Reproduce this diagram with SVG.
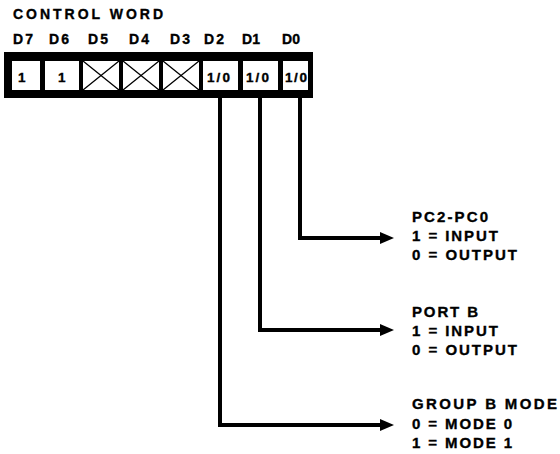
<svg xmlns="http://www.w3.org/2000/svg" width="560" height="454" viewBox="0 0 560 454">
<style>
text{font-family:"Liberation Sans",Arial,sans-serif;font-weight:bold;fill:#000;stroke:#000;stroke-width:0.35}
.hd{font-size:14px}
.cell{fill:#fff;stroke:none}
.ct{font-size:13.5px}
.x{stroke:#000;stroke-width:1.3;fill:none}
.lbl{font-size:15px}
.wire{fill:none;stroke:#000;stroke-width:4;stroke-linejoin:miter;stroke-linecap:butt}
</style>
<g id="header">
<text class="hd" x="13" y="19" textLength="150" lengthAdjust="spacing">CONTROL WORD</text>
<text class="hd" x="13" y="44" textLength="20" lengthAdjust="spacing">D7</text>
<text class="hd" x="49" y="44" textLength="20" lengthAdjust="spacing">D6</text>
<text class="hd" x="88" y="44" textLength="20" lengthAdjust="spacing">D5</text>
<text class="hd" x="129" y="44" textLength="20" lengthAdjust="spacing">D4</text>
<text class="hd" x="170" y="44" textLength="20" lengthAdjust="spacing">D3</text>
<text class="hd" x="204" y="44" textLength="20" lengthAdjust="spacing">D2</text>
<text class="hd" x="242" y="44" textLength="18" lengthAdjust="spacing">D1</text>
<text class="hd" x="282" y="44" textLength="18" lengthAdjust="spacing">D0</text>
</g>
<g id="register">
<rect x="4" y="52" width="309" height="46" fill="#000"/>
<g id="d7"><rect class="cell" x="12" y="61" width="28" height="29"/><text class="ct" x="18" y="82">1</text></g>
<g id="d6"><rect class="cell" x="45" y="61" width="34" height="29"/><text class="ct" x="58" y="82">1</text></g>
<g id="d5"><rect class="cell" x="83" y="61" width="36" height="29"/><path class="x" d="M83,61 L119,90 M119,61 L83,90"/></g>
<g id="d4"><rect class="cell" x="123" y="61" width="36" height="29"/><path class="x" d="M123,61 L159,90 M159,61 L123,90"/></g>
<g id="d3"><rect class="cell" x="163" y="61" width="36" height="29"/><path class="x" d="M163,61 L199,90 M199,61 L163,90"/></g>
<g id="d2"><rect class="cell" x="203" y="61" width="35" height="29"/><text class="ct" x="207" y="82" textLength="23" lengthAdjust="spacing">1/0</text></g>
<g id="d1"><rect class="cell" x="243" y="61" width="35" height="29"/><text class="ct" x="246" y="82" textLength="23" lengthAdjust="spacing">1/0</text></g>
<g id="d0"><rect class="cell" x="283" y="61" width="25" height="29"/><text class="ct" x="285" y="82" textLength="22" lengthAdjust="spacing">1/0</text></g>
</g>
<g id="connectors">
<polyline class="wire" points="300,98 300,238 381,238"/>
<polygon points="380,232 394,238 380,244" fill="#000"/>
<polyline class="wire" points="260,98 260,330 381,330"/>
<polygon points="380,324 394,330 380,336" fill="#000"/>
<polyline class="wire" points="220,98 220,425 381,425"/>
<polygon points="380,419 394,425 380,431" fill="#000"/>
</g>
<g id="pc2pc0">
<text class="lbl" x="412" y="222" textLength="76" lengthAdjust="spacing">PC2-PC0</text>
<text class="lbl" x="412" y="241" textLength="86" lengthAdjust="spacing">1 = INPUT</text>
<text class="lbl" x="412" y="260" textLength="105" lengthAdjust="spacing">0 = OUTPUT</text>
</g>
<g id="portb">
<text class="lbl" x="412" y="317" textLength="66" lengthAdjust="spacing">PORT B</text>
<text class="lbl" x="412" y="336" textLength="86" lengthAdjust="spacing">1 = INPUT</text>
<text class="lbl" x="412" y="355" textLength="105" lengthAdjust="spacing">0 = OUTPUT</text>
</g>
<g id="groupb">
<text class="lbl" x="412" y="409" textLength="145" lengthAdjust="spacing">GROUP B MODE</text>
<text class="lbl" x="412" y="429" textLength="100" lengthAdjust="spacing">0 = MODE 0</text>
<text class="lbl" x="412" y="448" textLength="100" lengthAdjust="spacing">1 = MODE 1</text>
</g>
</svg>
